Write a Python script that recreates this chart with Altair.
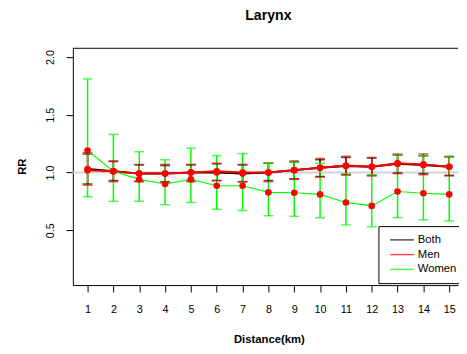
import altair as alt
import pandas as pd

dist = list(range(1, 16))
series_names = ["Both", "Men", "Women"]

both_rr = [1.03, 1.01, 0.99, 0.99, 1.00, 1.00, 0.99, 1.00, 1.02, 1.04, 1.055, 1.05, 1.075, 1.065, 1.05]
both_lo = [0.90, 0.93, 0.925, 0.92, 0.93, 0.93, 0.92, 0.93, 0.945, 0.965, 0.98, 0.975, 0.995, 0.99, 0.975]
both_hi = [1.16, 1.095, 1.065, 1.06, 1.065, 1.075, 1.065, 1.08, 1.09, 1.11, 1.13, 1.125, 1.15, 1.145, 1.135]

men_rr = [1.02, 1.01, 0.99, 0.99, 1.00, 1.01, 1.00, 1.00, 1.02, 1.04, 1.06, 1.05, 1.08, 1.07, 1.05]
men_lo = [0.89, 0.92, 0.92, 0.91, 0.92, 0.93, 0.92, 0.92, 0.94, 0.96, 0.98, 0.97, 0.99, 0.98, 0.97]
men_hi = [1.17, 1.10, 1.07, 1.07, 1.07, 1.08, 1.07, 1.08, 1.10, 1.12, 1.14, 1.13, 1.16, 1.16, 1.14]

women_rr = [1.19, 1.01, 0.94, 0.90, 0.94, 0.885, 0.885, 0.827, 0.824, 0.81, 0.74, 0.71, 0.835, 0.82, 0.81]
women_lo = [0.79, 0.75, 0.75, 0.72, 0.74, 0.68, 0.67, 0.625, 0.62, 0.608, 0.545, 0.53, 0.608, 0.59, 0.58]
women_hi = [1.81, 1.33, 1.18, 1.11, 1.21, 1.146, 1.163, 1.08, 1.089, 1.08, 0.99, 0.98, 1.15, 1.146, 1.134]

y_ticks = [0.5, 1.0, 1.5, 2.0]

rows = []
for name, rr, lo, hi in [("Both", both_rr, both_lo, both_hi),
                         ("Men", men_rr, men_lo, men_hi),
                         ("Women", women_rr, women_lo, women_hi)]:
    for d, r, l, h in zip(dist, rr, lo, hi):
        rows.append({"dist": d, "series": name, "rr": r, "lo": l, "hi": h})
df = pd.DataFrame(rows)

W, H = 392, 241
FONT = "Liberation Sans"

xscale = alt.Scale(domain=[0.43, 15.34], nice=False, zero=False)
yscale = alt.Scale(domain=[0.024, 2.076], nice=False, zero=False)
cscale = alt.Scale(domain=series_names, range=["#000000", "#FF0000", "#00FF00"])

xaxis = alt.Axis(values=dist, tickSize=7, labelPadding=12, labelFontSize=11, labelFont=FONT,
                 labelColor="#000", tickColor="#000", domainColor="#000", grid=False,
                 title="Distance(km)", titleFont=FONT, titleFontSize=11.5, titleFontWeight="bold",
                 titleColor="#000", titleX=199.5, titleY=58, titleBaseline="alphabetic",
                 titleAnchor="middle", labelFlush=False, labelOverlap=False)
yaxis = alt.Axis(values=y_ticks, format=".1f", tickSize=7, labelPadding=11, labelFontSize=11,
                 labelFont=FONT, labelAngle=270, labelColor="#000", tickColor="#000",
                 domainColor="#000", grid=False, title="RR", titleFont=FONT, titleFontSize=11.5,
                 titleFontWeight="bold", titleColor="#000", titleX=-48.5, titleY=120,
                 titleBaseline="alphabetic", titleAngle=270, titleAnchor="middle")

legend = alt.Legend(
    orient="none", legendX=311, legendY=181, title=None, symbolType="M-0.4,0H4.4",
    symbolSize=100, symbolStrokeWidth=1.5, labelFontSize=11.5, labelFont=FONT,
    labelColor="#000", padding=8, strokeColor="#000", fillColor="white",
    labelOffset=20, rowPadding=3, labelLimit=200)

base = alt.Chart(df)
X = alt.X("dist:Q", scale=xscale, axis=xaxis)
Ylo = alt.Y("lo:Q", scale=yscale, axis=yaxis)
Yhi = alt.Y("hi:Q", scale=yscale, axis=yaxis)
Yrr = alt.Y("rr:Q", scale=yscale, axis=yaxis)
C = alt.Color("series:N", scale=cscale, legend=legend)

refline = alt.Chart(pd.DataFrame({"ref": [1.0]})).mark_rule(color="#D3D3D3", strokeWidth=2).encode(
    y=alt.Y("ref:Q", scale=yscale, axis=yaxis)
)

topline = alt.Chart(pd.DataFrame({"ref": [1.0]})).mark_rule(color="#000", strokeWidth=1).encode(
    x=alt.value(0), x2=alt.value(W), y=alt.value(0)
)

bars = base.mark_rule(strokeWidth=1.5).encode(x=X, y=Ylo, y2="hi:Q", color=C)
caps_lo = base.mark_tick(orient="horizontal", size=10, thickness=1.5).encode(x=X, y=Ylo, color=C)
caps_hi = base.mark_tick(orient="horizontal", size=10, thickness=1.5).encode(x=X, y=Yhi, color=C)

lines_thick = base.transform_filter(alt.datum.series != "Women").mark_line(strokeWidth=2).encode(
    x=X, y=Yrr, color=C)
lines_thin = base.transform_filter(alt.datum.series == "Women").mark_line(strokeWidth=1.2).encode(
    x=X, y=Yrr, color=C)
points = base.mark_circle(size=45, color="#FF0000", opacity=1).encode(x=X, y=Yrr)

chart = alt.layer(refline, bars, caps_lo, caps_hi, lines_thick, lines_thin, points, topline).properties(
    width=W, height=H,
    title=alt.TitleParams("Larynx", font=FONT, fontSize=14.4, fontWeight="bold", color="#000",
                          anchor="middle", frame="group", dx=3, dy=-21),
    autosize=alt.AutoSizeParams(type="none"),
    padding={"left": 66, "top": 38, "right": 1, "bottom": 59},
).configure_view(stroke=None)

chart.save("out.html", embed_options={"renderer": "svg", "actions": False})
